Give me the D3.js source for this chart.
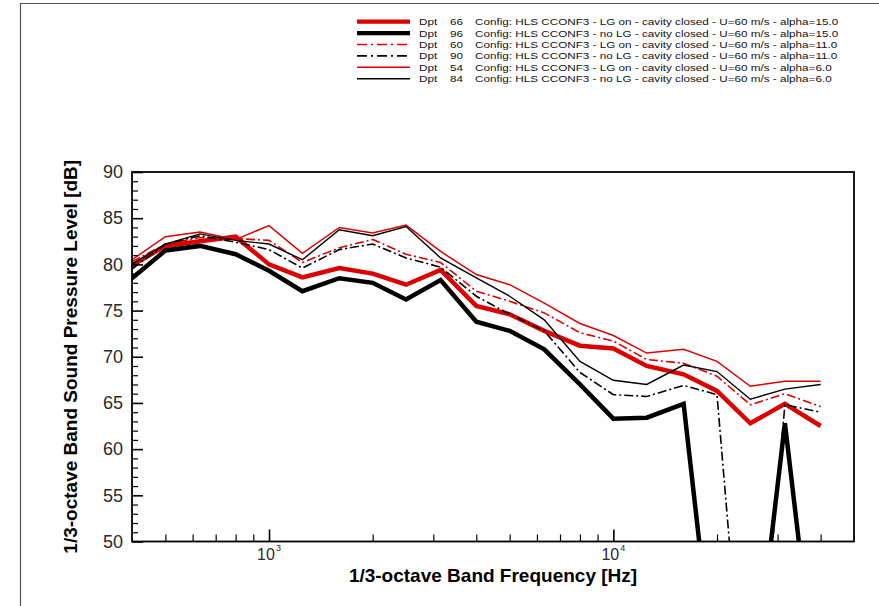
<!DOCTYPE html>
<html>
<head>
<meta charset="utf-8">
<script src="https://cdn.jsdelivr.net/npm/d3@7"></script>
<style>
  html, body { margin: 0; padding: 0; background: #fff; }
  svg { display: block; font-family: "Liberation Sans", Arial, Helvetica, sans-serif; }
</style>
</head>
<body>
<svg id="chart" width="879" height="606"></svg>
<script>
// ---------- data ----------
const freqs = [400, 500, 630, 800, 1000, 1250, 1600, 2000, 2500, 3150, 4000, 5000, 6300, 8000, 10000, 12500, 16000, 20000, 25000, 31500, 40000];

const dpt66 = [79.9, 82.0, 82.5, 83.0, 80.0, 78.6, 79.6, 79.0, 77.8, 79.4, 75.5, 74.6, 72.8, 71.2, 70.9, 69.0, 68.1, 66.3, 62.8, 64.9, 62.5];
const dpt96 = [78.5, 81.5, 82.0, 81.1, 79.3, 77.1, 78.5, 78.0, 76.2, 78.3, 73.8, 72.8, 70.8, 67.0, 63.3, 63.4, 64.9, 33.0, 31.0, 62.8, 30.0];
const dpt60 = [80.3, 82.2, 82.9, 82.8, 82.6, 80.2, 81.8, 82.7, 81.1, 80.2, 77.1, 76.0, 74.75, 72.6, 71.7, 69.7, 69.3, 67.9, 64.8, 66.0, 64.6];
const dpt90 = [79.5, 82.2, 83.1, 82.4, 81.6, 79.6, 81.6, 82.2, 80.7, 79.7, 76.55, 74.6, 72.8, 68.3, 65.9, 65.7, 66.9, 65.9, 23.0, 64.8, 64.0];
const dpt54 = [80.5, 83.0, 83.5, 82.7, 84.2, 81.2, 84.0, 83.4, 84.25, 81.4, 78.9, 77.8, 75.8, 73.6, 72.3, 70.4, 70.8, 69.5, 66.8, 67.35, 67.35];
const dpt84 = [80.0, 82.2, 83.3, 82.6, 82.2, 80.5, 83.75, 83.1, 84.1, 80.7, 78.55, 76.55, 74.0, 69.5, 67.45, 67.0, 69.1, 68.4, 65.4, 66.5, 67.0];

const seriesDpt = ["66", "96", "60", "90", "54", "84"];
const seriesLabels = [
  "Config: HLS CCONF3 - LG on - cavity closed - U=60 m/s - alpha=15.0",
  "Config: HLS CCONF3 - no LG - cavity closed - U=60 m/s - alpha=15.0",
  "Config: HLS CCONF3 - LG on - cavity closed - U=60 m/s - alpha=11.0",
  "Config: HLS CCONF3 - no LG - cavity closed - U=60 m/s - alpha=11.0",
  "Config: HLS CCONF3 - LG on - cavity closed - U=60 m/s - alpha=6.0",
  "Config: HLS CCONF3 - no LG - cavity closed - U=60 m/s - alpha=6.0"
];
const seriesValues = [dpt66, dpt96, dpt60, dpt90, dpt54, dpt84];

const yMajorTicks = [50, 55, 60, 65, 70, 75, 80, 85, 90];
const xMajorTicks = [1000, 10000];
const xMajorExp = ["3", "4"];
const xMinorTicks = [500, 600, 700, 800, 900, 2000, 3000, 4000, 5000, 6000, 7000, 8000, 9000, 20000, 30000, 40000];

const xTitle = "1/3-octave Band Frequency [Hz]";
const yTitle = "1/3-octave Band Sound Pressure Level [dB]";

// ---------- styles ----------
const RED = "#dd0000", BLACK = "#000000";
const styles = [
  { color: RED,   width: 4.5, dash: null },
  { color: BLACK, width: 4.5, dash: null },
  { color: RED,   width: 1.6, dash: "9,3,2,3" },
  { color: BLACK, width: 1.6, dash: "9,3,2,3" },
  { color: RED,   width: 1.5, dash: null },
  { color: BLACK, width: 1.4, dash: null }
];

// ---------- layout ----------
const svg = d3.select("#chart");
const L = 132, R = 854, T = 172, B = 541.5;

const x = d3.scaleLog().domain([400, 50000]).range([L, R]);
const y = d3.scaleLinear().domain([50, 90]).range([B, T]);

// outer page frame (partial)
svg.append("path")
  .attr("d", "M20.5,606 V3.5 H879")
  .attr("fill", "none").attr("stroke", "#555").attr("stroke-width", 1.2);

// clip
svg.append("defs").append("clipPath").attr("id", "plotclip")
  .append("rect").attr("x", L).attr("y", T).attr("width", R - L).attr("height", B - T);

// series
const line = d3.line().x((d, i) => x(freqs[i])).y(d => y(d));
const gLines = svg.append("g").attr("clip-path", "url(#plotclip)");
seriesValues.forEach((vals, k) => {
  const s = styles[k];
  const p = gLines.append("path")
    .datum(vals)
    .attr("d", line)
    .attr("fill", "none")
    .attr("stroke", s.color)
    .attr("stroke-width", s.width)
    .attr("stroke-linejoin", "miter")
    .attr("stroke-miterlimit", 3);
  if (s.dash) p.attr("stroke-dasharray", s.dash);
});

// y axis major ticks (inward)
const yAxis = d3.axisLeft(y).tickValues(yMajorTicks).tickSizeInner(-11).tickSizeOuter(0).tickPadding(9);
const gy = svg.append("g").attr("transform", `translate(${L},0)`).call(yAxis);
gy.select(".domain").remove();
gy.selectAll(".tick line").attr("stroke", "#000").attr("stroke-width", 1.6);
gy.selectAll(".tick text").attr("font-size", 18).attr("fill", "#2a2a2a")
  .attr("font-family", "Liberation Sans, Arial, sans-serif");

// y minor ticks
const yMinor = d3.range(50, 91, 1).filter(v => v % 5 !== 0);
const gym = svg.append("g").attr("transform", `translate(${L},0)`)
  .call(d3.axisLeft(y).tickValues(yMinor).tickSizeInner(-6).tickSizeOuter(0).tickFormat(""));
gym.select(".domain").remove();
gym.selectAll(".tick line").attr("stroke", "#000").attr("stroke-width", 1.2);

// x axis major ticks (inward)
const gx = svg.append("g").attr("transform", `translate(0,${B})`)
  .call(d3.axisBottom(x).tickValues(xMajorTicks).tickSizeInner(-12).tickSizeOuter(0).tickFormat(""));
gx.select(".domain").remove();
gx.selectAll(".tick line").attr("stroke", "#000").attr("stroke-width", 1.6);

const gxm = svg.append("g").attr("transform", `translate(0,${B})`)
  .call(d3.axisBottom(x).tickValues(xMinorTicks).tickSizeInner(-7).tickSizeOuter(0).tickFormat(""));
gxm.select(".domain").remove();
gxm.selectAll(".tick line").attr("stroke", "#000").attr("stroke-width", 1.2);

// x tick labels 10^n
xMajorTicks.forEach((v, i) => {
  const t = svg.append("text")
    .attr("x", x(v)).attr("y", 560)
    .attr("text-anchor", "middle")
    .attr("fill", "#2a2a2a");
  t.append("tspan").attr("font-size", 16).text("10");
  t.append("tspan").attr("font-size", 9).attr("dy", -9).attr("dx", 1).text(xMajorExp[i]);
});

// plot frame
svg.append("rect")
  .attr("x", L).attr("y", T).attr("width", R - L).attr("height", B - T)
  .attr("fill", "none").attr("stroke", "#000").attr("stroke-width", 1.8);

// axis titles
svg.append("text")
  .attr("x", (L + R) / 2).attr("y", 582)
  .attr("text-anchor", "middle")
  .attr("font-size", 19).attr("font-weight", "bold").attr("fill", "#000")
  .text(xTitle);

svg.append("text")
  .attr("transform", `translate(77,${(T + B) / 2}) rotate(-90)`)
  .attr("text-anchor", "middle")
  .attr("font-size", 19).attr("font-weight", "bold").attr("fill", "#000")
  .text(yTitle);

// legend (glyphs ~10px tall but wide, as in the reference)
const LFS = 9.6, SX = 1.22;
const lg = svg.append("g").attr("font-size", LFS).attr("fill", "#111");
seriesDpt.forEach((d, i) => {
  const cy = 21.7 + i * 11.4;
  const s = styles[i];
  const ln = lg.append("line")
    .attr("x1", 357).attr("x2", 410).attr("y1", cy).attr("y2", cy)
    .attr("stroke", s.color)
    .attr("stroke-width", s.width > 3 ? 4.2 : 1.6);
  if (s.dash) ln.attr("stroke-dasharray", "10,4,2,4");
  const by = cy + 3.5;
  lg.append("text").attr("transform", `translate(419,${by}) scale(${SX},1)`).text("Dpt");
  lg.append("text").attr("transform", `translate(450,${by}) scale(${SX},1)`).text(d);
  lg.append("text").attr("transform", `translate(475,${by}) scale(${SX},1)`).text(seriesLabels[i]);
});
</script>
</body>
</html>
